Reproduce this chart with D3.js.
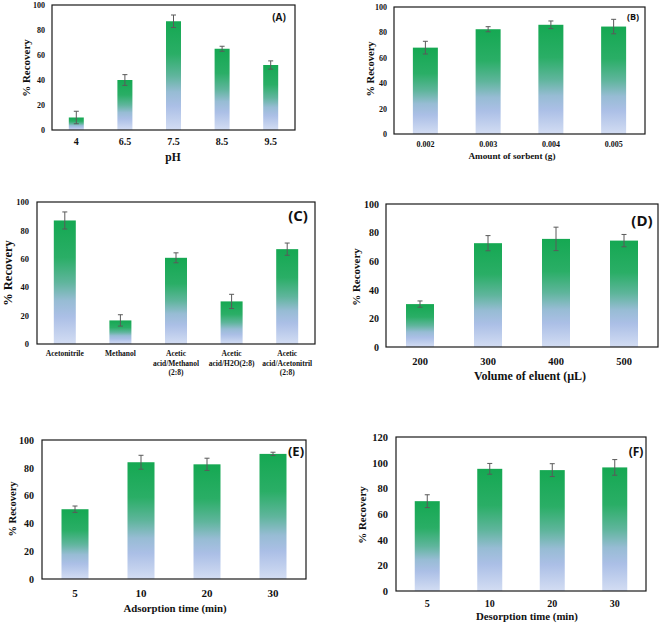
<!DOCTYPE html>
<html><head><meta charset="utf-8">
<script src="https://cdn.jsdelivr.net/npm/d3@7"></script>
<style>
html,body{margin:0;padding:0;background:#fff;}
svg{display:block;}
</style></head>
<body>
<script>
// ---- data ----
const phCats = ["4", "6.5", "7.5", "8.5", "9.5"];
const phVals = [10, 40, 87, 65, 52];
const phErr = [5, 4.3, 5, 2, 3.3];

const sorbentCats = ["0.002", "0.003", "0.004", "0.005"];
const sorbentVals = [68, 82.5, 86, 84.6];
const sorbentErr = [5, 2, 3, 5.7];

const eluentCats = ["Acetonitrile", "Methanol", "Acetic acid/Methanol (2:8)", "Acetic acid/H2O(2:8)", "Acetic acid/Acetonitril (2:8)"];
const eluentLabelLines = [["Acetonitrile"], ["Methanol"], ["Acetic", "acid/Methanol", "(2:8)"], ["Acetic", "acid/H2O(2:8)"], ["Acetic", "acid/Acetonitril", "(2:8)"]];
const eluentVals = [87, 16.6, 60.7, 30, 66.8];
const eluentErr = [6, 4, 3.5, 5, 4.3];

const volumeCats = ["200", "300", "400", "500"];
const volumeVals = [30, 72.6, 75.6, 74.4];
const volumeErr = [2.2, 5.3, 8.2, 4.3];

const adsCats = ["5", "10", "20", "30"];
const adsVals = [50.2, 84, 82.5, 90];
const adsErr = [2.3, 5, 4.4, 1.2];

const desCats = ["5", "10", "20", "30"];
const desVals = [70, 95.2, 94.2, 96.3];
const desErr = [5, 4.2, 5, 6.1];

const yTicks100 = [0, 20, 40, 60, 80, 100];
const yTicks120 = [0, 20, 40, 60, 80, 100, 120];

// ---- layout ----
const W = 661, H = 623;
const svg = d3.select("body").append("svg").attr("width", W).attr("height", H);

const defs = svg.append("defs");
const grad = defs.append("linearGradient").attr("id", "barGrad")
  .attr("x1", 0).attr("y1", 0).attr("x2", 0).attr("y2", 1);
[[0, "#15a852"], [0.3, "#2aae66"], [0.5, "#5fb59c"], [0.65, "#97bcd4"], [0.78, "#abbfe6"], [1, "#d3ddf3"]]
  .forEach(([o, c]) => grad.append("stop").attr("offset", o).attr("stop-color", c));

const panels = [
  {cats: phCats, vals: phVals, err: phErr, left: 52, right: 295, top: 5, bottom: 130, yMax: 100, yTicks: yTicks100,
   barW: 15, yFont: 8, yGap: 7, xFont: 10, xBase: 145, title: "pH", titleX: 173, titleBase: 161, titleFont: 11.5,
   yTitleX: 26, yTitleY: 68, yTitleFont: 11, tag: "(A)", tagX: 279, tagY: 17, tagFont: 10},
  {cats: sorbentCats, vals: sorbentVals, err: sorbentErr, left: 394, right: 645, top: 7, bottom: 134, yMax: 100, yTicks: yTicks100,
   barW: 25, yFont: 8, yGap: 7, xFont: 8, xBase: 147, title: "Amount of sorbent (g)", titleX: 512, titleBase: 159, titleFont: 9.2,
   yTitleX: 370, yTitleY: 69, yTitleFont: 10.5, tag: "(B)", tagX: 633, tagY: 16, tagFont: 9},
  {cats: eluentCats, lines: eluentLabelLines, vals: eluentVals, err: eluentErr, left: 37, right: 315, top: 202, bottom: 344, yMax: 100, yTicks: yTicks100,
   barW: 22, yFont: 8.5, yGap: 8, xFont: 7.5, xBase: 356, lineH: 9.7, title: null,
   yTitleX: 8, yTitleY: 273, yTitleFont: 12.5, tag: "(C)", tagX: 298, tagY: 215, tagFont: 15},
  {cats: volumeCats, vals: volumeVals, err: volumeErr, left: 386, right: 658, top: 204, bottom: 347, yMax: 100, yTicks: yTicks100,
   barW: 28, yFont: 10, yGap: 7, xFont: 10.5, xBase: 365, title: "Volume of eluent (\u00b5L)", titleX: 530, titleBase: 380, titleFont: 12,
   yTitleX: 356, yTitleY: 277, yTitleFont: 11, tag: "(D)", tagX: 642, tagY: 220, tagFont: 15},
  {cats: adsCats, vals: adsVals, err: adsErr, left: 42, right: 306, top: 440, bottom: 579, yMax: 100, yTicks: yTicks100,
   barW: 27, yFont: 10, yGap: 8, xFont: 11, xBase: 597, title: "Adsorption time (min)", titleX: 175, titleBase: 612, titleFont: 10.8,
   yTitleX: 12, yTitleY: 509, yTitleFont: 10.5, tag: "(E)", tagX: 296, tagY: 451, tagFont: 13},
  {cats: desCats, vals: desVals, err: desErr, left: 396, right: 646, top: 437, bottom: 591, yMax: 120, yTicks: yTicks120,
   barW: 25, yFont: 10.5, yGap: 8, xFont: 10, xBase: 607, title: "Desorption time (min)", titleX: 527, titleBase: 620, titleFont: 10.8,
   yTitleX: 362, yTitleY: 515, yTitleFont: 11, tag: "(F)", tagX: 636, tagY: 451, tagFont: 12}
];

const serif = '"Liberation Serif","Times New Roman",serif';

panels.forEach(p => {
  const g = svg.append("g");
  const x = d3.scaleBand().domain(p.cats).range([p.left, p.right]).padding(0);
  const y = d3.scaleLinear().domain([0, p.yMax]).range([p.bottom, p.top]);
  const data = p.cats.map((c, i) => ({c, v: p.vals[i], e: p.err[i]}));

  // bars
  g.selectAll("rect.bar").data(data).join("rect").attr("class", "bar")
    .attr("x", d => x(d.c) + x.bandwidth() / 2 - p.barW / 2)
    .attr("width", p.barW)
    .attr("y", d => y(d.v))
    .attr("height", d => y(0) - y(d.v))
    .attr("fill", "url(#barGrad)");

  // error bars
  const eb = g.selectAll("g.err").data(data).join("g").attr("class", "err")
    .attr("stroke", "#5a5a5a").attr("stroke-width", 1);
  eb.append("line")
    .attr("x1", d => x(d.c) + x.bandwidth() / 2).attr("x2", d => x(d.c) + x.bandwidth() / 2)
    .attr("y1", d => y(d.v + d.e)).attr("y2", d => y(d.v - d.e));
  eb.append("line")
    .attr("x1", d => x(d.c) + x.bandwidth() / 2 - 2.5).attr("x2", d => x(d.c) + x.bandwidth() / 2 + 2.5)
    .attr("y1", d => y(d.v + d.e)).attr("y2", d => y(d.v + d.e));
  eb.append("line")
    .attr("x1", d => x(d.c) + x.bandwidth() / 2 - 2.5).attr("x2", d => x(d.c) + x.bandwidth() / 2 + 2.5)
    .attr("y1", d => y(d.v - d.e)).attr("y2", d => y(d.v - d.e));

  // y axis
  const ya = g.append("g").attr("transform", `translate(${p.left},0)`)
    .call(d3.axisLeft(y).tickValues(p.yTicks).tickSize(0).tickPadding(p.yGap));
  ya.select(".domain").remove();
  ya.attr("font-family", serif).attr("font-size", p.yFont);
  ya.selectAll("text").attr("font-weight", "bold").attr("fill", "#111")
    .style("font-family", serif).style("font-size", p.yFont + "px");

  // x axis
  const xa = g.append("g").attr("transform", `translate(0,${p.bottom})`)
    .call(d3.axisBottom(x).tickSize(0));
  xa.select(".domain").remove();
  xa.attr("font-family", serif).attr("font-size", p.xFont);
  xa.selectAll("text").attr("dy", null)
    .attr("font-weight", "bold").attr("fill", "#111")
    .style("font-family", serif).style("font-size", p.xFont + "px")
    .attr("y", p.xBase - p.bottom);
  if (p.lines) {
    xa.selectAll(".tick text").each(function(d, i) {
      const t = d3.select(this);
      t.text(null);
      p.lines[i].forEach((ln, k) => {
        t.append("tspan").attr("x", 0).attr("y", p.xBase - p.bottom + k * p.lineH).text(ln);
      });
    });
  }

  // frame
  g.append("rect").attr("x", p.left).attr("y", p.top)
    .attr("width", p.right - p.left).attr("height", p.bottom - p.top)
    .attr("fill", "none").attr("stroke", "#1a1a1a").attr("stroke-width", 1.2);

  // axis titles
  if (p.title) {
    g.append("text").attr("x", p.titleX).attr("y", p.titleBase)
      .attr("text-anchor", "middle").attr("font-family", serif).attr("font-weight", "bold")
      .attr("font-size", p.titleFont).attr("fill", "#111").text(p.title);
  }
  g.append("text").attr("transform", `translate(${p.yTitleX},${p.yTitleY}) rotate(-90)`)
    .attr("text-anchor", "middle").attr("dominant-baseline", "central")
    .attr("font-family", serif).attr("font-weight", "bold")
    .attr("font-size", p.yTitleFont).attr("fill", "#111").text("% Recovery");

  // panel tag
  g.append("text").attr("x", p.tagX).attr("y", p.tagY)
    .attr("text-anchor", "middle").attr("dominant-baseline", "central")
    .attr("font-family", '"Open Sans","Liberation Sans",sans-serif').attr("font-weight", "bold")
    .attr("font-size", p.tagFont).attr("fill", "#111").text(p.tag);
});
</script>
</body></html>
